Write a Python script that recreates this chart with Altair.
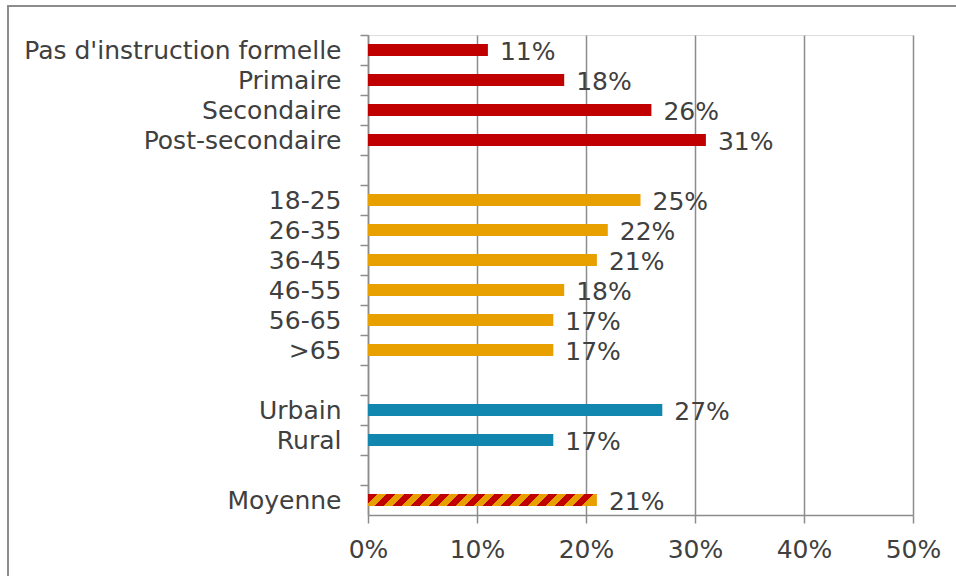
import altair as alt
import pandas as pd

categories = ["Pas d'instruction formelle", "Primaire", "Secondaire", "Post-secondaire",
              " ",
              "18-25", "26-35", "36-45", "46-55", "56-65", ">65",
              "  ",
              "Urbain", "Rural",
              "   ",
              "Moyenne"]
bar_categories = ["Pas d'instruction formelle", "Primaire", "Secondaire", "Post-secondaire",
                  "18-25", "26-35", "36-45", "46-55", "56-65", ">65",
                  "Urbain", "Rural", "Moyenne"]
values = [0.11, 0.18, 0.26, 0.31, 0.25, 0.22, 0.21, 0.18, 0.17, 0.17, 0.27, 0.17, 0.21]
groups = ["edu"] * 4 + ["age"] * 6 + ["milieu"] * 2 + ["moy"]
x_ticks = [0, 0.1, 0.2, 0.3, 0.4, 0.5]

df = pd.DataFrame({"cat": bar_categories, "value": values, "group": groups})

FONT = "DejaVu Sans"
TXT = "#404040"
GRID = "#8c8c8c"
W, H = 545, 480
XMAX = 0.5
FS = 25

# striped gradient for the average bar
avg_w = values[-1] / XMAX * W
bar_h = 12
period = 18.0 / avg_w
stops = []
t = 0.0
while True:
    b = t + period * 0.5
    c = t + period
    stops += [alt.GradientStop(color="#C00000", offset=min(t, 1)),
              alt.GradientStop(color="#C00000", offset=min(b, 1)),
              alt.GradientStop(color="#E8A000", offset=min(b, 1)),
              alt.GradientStop(color="#E8A000", offset=min(c, 1))]
    t = c
    if t >= 1:
        break
stripe = alt.LinearGradient(gradient="linear", stops=stops,
                            x1=0, y1=0, x2=1, y2=bar_h / avg_w)

xscale = alt.Scale(domain=[0, XMAX], nice=False)
yscale = alt.Scale(domain=categories, paddingInner=0, paddingOuter=0)

xaxis = alt.Axis(values=x_ticks, format=".0%", grid=True, gridColor=GRID, gridWidth=1.5,
                 domainColor=GRID, domainWidth=1.5, tickColor=GRID, tickWidth=1.5, tickSize=8,
                 labelFont=FONT, labelFontSize=FS, labelColor=TXT, labelPadding=14,
                 labelFlush=False, title=None)
yaxis = alt.Axis(bandPosition=0, labelOffset=1, domainColor=GRID, domainWidth=1.5,
                 tickColor=GRID, tickWidth=1.5, tickSize=8, labelFont=FONT, labelFontSize=FS,
                 labelColor=TXT, labelPadding=19, labelLimit=400, title=None, grid=False)

base = alt.Chart(df)

bars = base.transform_filter(alt.datum.group != "moy").mark_bar(size=bar_h).encode(
    x=alt.X("value:Q", scale=xscale, axis=xaxis),
    y=alt.Y("cat:N", scale=yscale, axis=yaxis, sort=categories),
    color=alt.Color("group:N",
                    scale=alt.Scale(domain=["edu", "age", "milieu"],
                                    range=["#C00000", "#E8A000", "#1186AE"]),
                    legend=None),
)

avg = base.transform_filter(alt.datum.group == "moy").mark_bar(size=bar_h, fill=stripe).encode(
    x=alt.X("value:Q", scale=xscale),
    y=alt.Y("cat:N", scale=yscale, sort=categories),
)

labels = base.mark_text(align="left", baseline="middle", dx=12, dy=2,
                        font=FONT, fontSize=FS, color=TXT).encode(
    x=alt.X("value:Q", scale=xscale),
    y=alt.Y("cat:N", scale=yscale, sort=categories),
    text=alt.Text("value:Q", format=".0%"),
)

border = alt.Chart(pd.DataFrame({"a": [0]})).mark_rect(
    fill=None, stroke="#8c8c8c", strokeWidth=2).encode(
    x=alt.value(-360), x2=alt.value(620), y=alt.value(-29), y2=alt.value(600))

chart = alt.layer(border, bars, avg, labels).properties(
    width=W, height=H,
    autosize=alt.AutoSizeParams(type="none"),
    padding={"left": 368, "top": 35, "right": 43, "bottom": 61},
).configure_view(stroke=None).configure(background="white")

chart.save("out.html", embed_options={"renderer": "svg", "actions": False})
